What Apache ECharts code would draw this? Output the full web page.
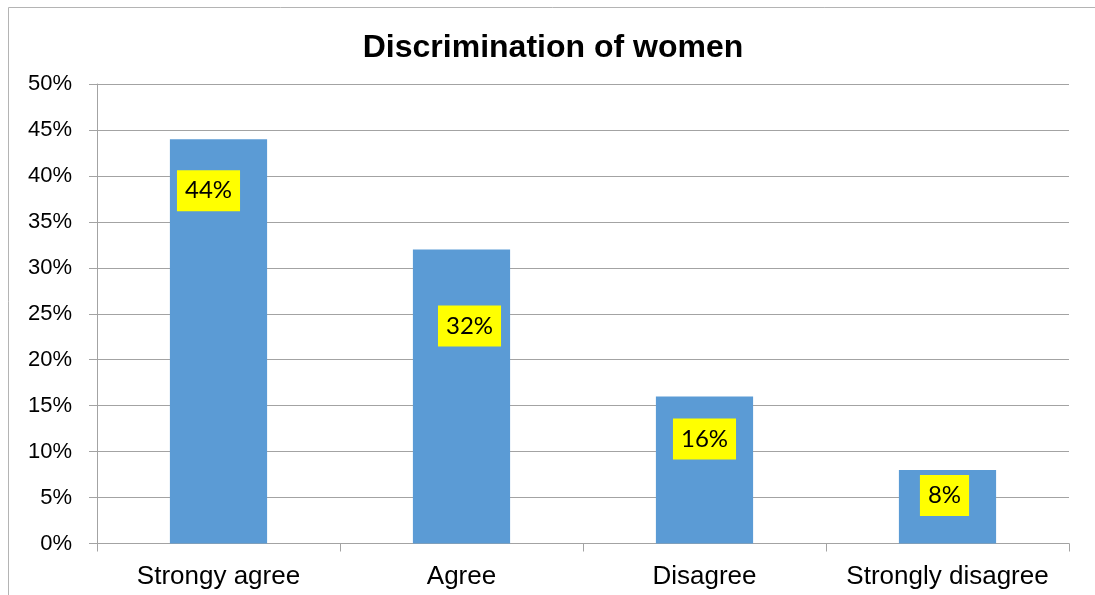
<!DOCTYPE html>
<html>
<head>
<meta charset="utf-8">
<title>Discrimination of women</title>
<script src="https://cdn.jsdelivr.net/npm/echarts@6/dist/echarts.min.js"></script>
<style>
  html, body { margin: 0; padding: 0; background: #ffffff; }
  #chart { width: 1095px; height: 595px; }
</style>
</head>
<body>
<div id="chart"></div>
<script>
// Survey answers and their shares (percent)
const categories = ['Strongy agree', 'Agree', 'Disagree', 'Strongly disagree'];
const shares = [44, 32, 16, 8];

// Value axis range and step (percent)
const axisMin = 0;
const axisMax = 50;
const axisStep = 5;

// Hand-placed nudges for the value labels, [dx, dy] from the top centre of each bar
const labelNudge = [[-10, 31], [8, 56], [0, 22], [-3, 5]];

const chart = echarts.init(document.getElementById('chart'), null, { renderer: 'canvas' });

const gridColor = '#a3a3a3';

chart.setOption({
  animation: false,
  backgroundColor: '#ffffff',
  title: {
    text: 'Discrimination of women',
    left: 548,
    textAlign: 'center',
    top: 27,
    textStyle: {
      fontFamily: 'Liberation Sans, Arial, sans-serif',
      fontSize: 32,
      fontWeight: 'bold',
      color: '#000000'
    }
  },
  graphic: [{
    type: 'rect',
    silent: true,
    shape: { x: 8.5, y: 7.5, width: 1200, height: 700 },
    style: { fill: 'none', stroke: '#b4b4b4', lineWidth: 1 }
  }],
  grid: {
    left: 97,
    right: 26,
    top: 84,
    bottom: 51.5,
    containLabel: false
  },
  xAxis: {
    type: 'category',
    data: categories,
    boundaryGap: true,
    axisLine: { show: true, lineStyle: { color: gridColor, width: 1 } },
    axisTick: { show: true, alignWithLabel: false, length: 8, lineStyle: { color: gridColor } },
    axisLabel: {
      margin: 20,
      color: '#000000',
      fontFamily: 'Liberation Sans, Arial, sans-serif',
      fontSize: 26,
      interval: 0
    },
    splitLine: { show: false }
  },
  yAxis: {
    type: 'value',
    min: axisMin,
    max: axisMax,
    interval: axisStep,
    axisLine: { show: true, lineStyle: { color: gridColor, width: 1 } },
    axisTick: { show: true, length: 8, lineStyle: { color: gridColor } },
    axisLabel: {
      margin: 25,
      color: '#000000',
      fontFamily: 'Liberation Sans, Arial, sans-serif',
      fontSize: 22,
      formatter: '{value}%'
    },
    splitLine: { show: true, lineStyle: { color: gridColor, width: 1 } }
  },
  series: [{
    type: 'bar',
    barWidth: '40%',
    itemStyle: { color: '#5b9bd5' },
    data: shares.map((v, i) => ({
      value: v,
      label: { offset: labelNudge[i] }
    })),
    label: {
      show: true,
      position: 'insideTop',
      distance: 0,
      formatter: (p) => p.value + '%',
      color: '#000000',
      fontFamily: 'Lato, "Open Sans", sans-serif',
      fontSize: 24,
      lineHeight: 41,
      backgroundColor: '#ffff00',
      padding: [0, 8]
    }
  }]
});
</script>
</body>
</html>
